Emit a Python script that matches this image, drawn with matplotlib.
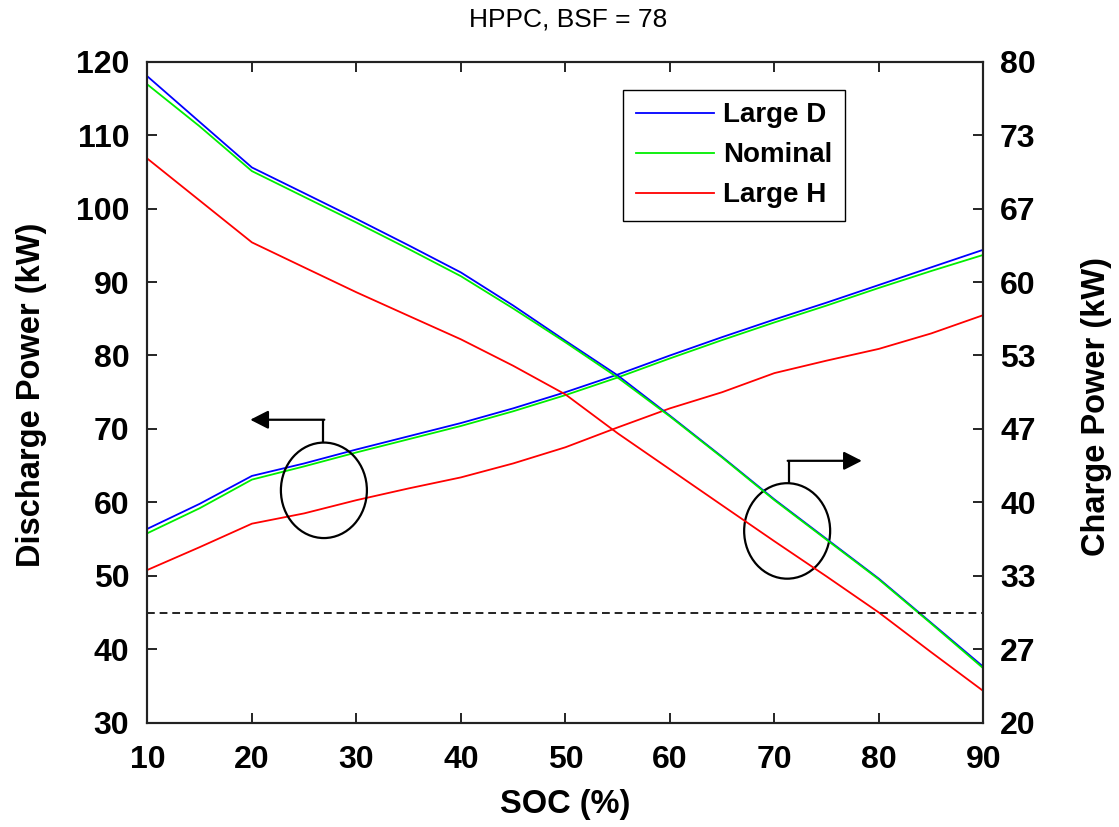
import numpy as np
import matplotlib
matplotlib.use("Agg")
import matplotlib.pyplot as plt
from matplotlib.patches import Ellipse
from matplotlib.ticker import FormatStrFormatter

plt.rcParams['font.family'] = ['Liberation Sans', 'DejaVu Sans']

# State of charge grid (%)
soc = [10, 15, 20, 25, 30, 35, 40, 45, 50, 55, 60, 65, 70, 75, 80, 85, 90]

# Discharge power (kW), left axis
discharge_large_d = [56.4, 59.8, 63.6, 65.3, 67.2, 69.0, 70.8, 72.8, 75.0, 77.4,
                     80.0, 82.5, 84.9, 87.2, 89.6, 92.0, 94.4]
discharge_nominal = [55.8, 59.2, 63.1, 64.9, 66.8, 68.6, 70.4, 72.4, 74.6, 77.0,
                     79.6, 82.1, 84.5, 86.8, 89.2, 91.5, 93.7]
discharge_large_h = [50.8, 53.9, 57.1, 58.5, 60.3, 61.9, 63.4, 65.3, 67.5, 70.2,
                     72.8, 75.0, 77.6, 79.3, 80.9, 83.0, 85.5]

# Charge power (kW), right axis
charge_large_d = [78.67, 74.53, 70.40, 68.07, 65.73, 63.33, 60.87, 57.87, 54.67, 51.53,
                  47.87, 44.13, 40.27, 36.67, 33.07, 29.07, 25.07]
charge_nominal = [77.93, 74.13, 70.07, 67.73, 65.40, 63.00, 60.53, 57.60, 54.53, 51.33,
                  47.80, 44.07, 40.20, 36.60, 33.00, 29.00, 24.93]
charge_large_h = [71.20, 67.40, 63.60, 61.33, 59.07, 56.93, 54.80, 52.40, 49.80, 46.27,
                  43.00, 39.73, 36.47, 33.27, 30.00, 26.40, 22.87]

# Charge power goal (kW)
charge_goal = 30

series_names = ['Large D', 'Nominal', 'Large H']
series_colors = ['#0000ff', '#00ee00', '#ff0000']

x_ticks = [10, 20, 30, 40, 50, 60, 70, 80, 90]
left_ticks = [30, 40, 50, 60, 70, 80, 90, 100, 110, 120]
right_ticks = list(np.linspace(20, 80, 10))

W, H = 1119, 827
fig = plt.figure(figsize=(W / 100, H / 100), dpi=100)
ax = fig.add_axes([147.4 / W, 1 - 722.7 / H, 836 / W, 661 / H])
ax2 = ax.twinx()

lw = 1.3
handles = []
for vals, name, col in zip([discharge_large_d, discharge_nominal, discharge_large_h],
                           series_names, series_colors):
    h, = ax.plot(soc, vals, color=col, lw=lw, label=name)
    handles.append(h)
for vals, col in zip([charge_large_d, charge_nominal, charge_large_h], series_colors):
    ax2.plot(soc, vals, color=col, lw=lw)

ax2.axhline(charge_goal, color='#222222', lw=1.4, dashes=(4, 2.5))

ax.set_xlim(10, 90)
ax.set_ylim(30, 120)
ax2.set_ylim(20, 80)
ax.set_xticks(x_ticks)
ax.set_yticks(left_ticks)
ax2.set_yticks(right_ticks)
ax2.yaxis.set_major_formatter(FormatStrFormatter('%.0f'))

for a in (ax, ax2):
    for s in a.spines.values():
        s.set_linewidth(1.5)
        s.set_color('#222222')
ax.tick_params(axis='x', direction='in', length=7, width=1.2, top=True,
               pad=16, labelsize=23)
ax.tick_params(axis='y', direction='in', length=7, width=1.2, pad=13, labelsize=23)
ax2.tick_params(axis='y', direction='in', length=7, width=1.2, pad=12, labelsize=23)
for lab in ax.get_xticklabels() + ax.get_yticklabels() + ax2.get_yticklabels():
    lab.set_fontweight('bold')

# Annotation markers: circles with elbow arrows pointing to each axis
ell_w, ell_h = 8.23, 13.0
ax.add_patch(Ellipse((26.89, 61.64), ell_w, ell_h, fill=False, ec='black', lw=1.6,
                     zorder=5))
ax.add_patch(Ellipse((71.22, 56.11), ell_w, ell_h, fill=False, ec='black', lw=1.6,
                     zorder=5))
arrow_style = dict(arrowstyle='-|>,head_length=0.55,head_width=0.28', color='black',
                   lw=1.6, mutation_scale=20, shrinkA=0, shrinkB=0)
ax.plot([26.85, 26.85], [68.14, 71.25], color='black', lw=1.6, zorder=5,
        solid_capstyle='butt')
ax.annotate('', xy=(19.84, 71.25), xytext=(26.85 + 0.08, 71.25),
            arrowprops=arrow_style, zorder=5)
ax.plot([71.35, 71.35], [62.6, 65.66], color='black', lw=1.6, zorder=5,
        solid_capstyle='butt')
ax.annotate('', xy=(78.37, 65.66), xytext=(71.35 - 0.08, 65.66),
            arrowprops=arrow_style, zorder=5)

leg = ax2.legend(handles, series_names, loc='upper left',
                 bbox_to_anchor=(0.5693, 0.9572), fancybox=False, framealpha=1,
                 edgecolor='black', handlelength=2.8, handletextpad=0.35,
                 labelspacing=0.5, borderpad=0.45, borderaxespad=0,
                 prop=dict(size=20, weight='bold'))
leg.get_frame().set_linewidth(1.0)

fig.text(568 / W, 1 - 19 / H, 'HPPC, BSF = 78', ha='center', va='center', fontsize=19)
fig.text(565 / W, 1 - 805 / H, 'SOC (%)', ha='center', va='center', fontsize=23.5,
         fontweight='bold')
fig.text(32 / W, 1 - 395 / H, 'Discharge Power (kW)', ha='center', va='center',
         rotation=90, fontsize=23.5, fontweight='bold')
fig.text(1097 / W, 1 - 406 / H, 'Charge Power (kW)', ha='center', va='center',
         rotation=90, fontsize=23.5, fontweight='bold')

fig.savefig('out.png', dpi=100)
